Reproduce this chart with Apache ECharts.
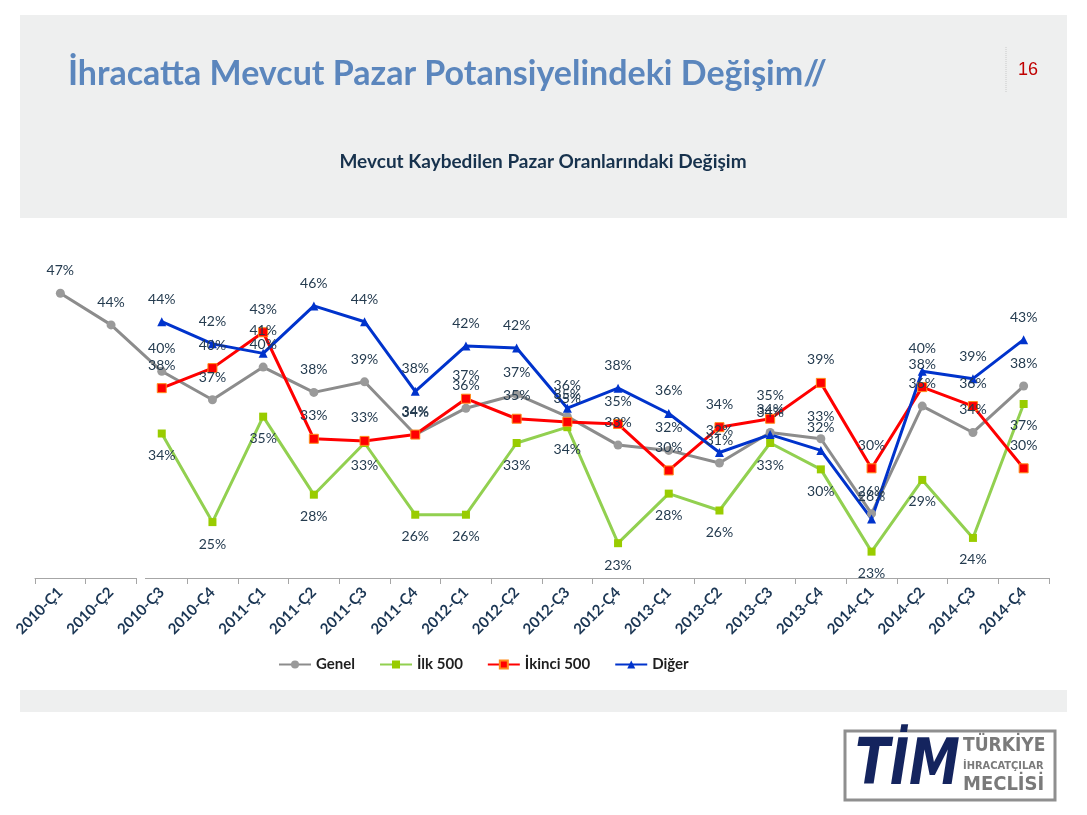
<!DOCTYPE html>
<html>
<head>
<meta charset="utf-8">
<script src="https://cdn.jsdelivr.net/npm/echarts@6/dist/echarts.min.js"></script>
<style>
html,body{margin:0;padding:0;background:#fff;}
#c{width:1087px;height:815px;}
</style>
</head>
<body>
<div id="c"></div>
<script>
const categories = ['2010-Ç1','2010-Ç2','2010-Ç3','2010-Ç4','2011-Ç1','2011-Ç2','2011-Ç3','2011-Ç4','2012-Ç1','2012-Ç2','2012-Ç3','2012-Ç4','2013-Ç1','2013-Ç2','2013-Ç3','2013-Ç4','2014-Ç1','2014-Ç2','2014-Ç3','2014-Ç4'];
const seriesNames = ['Genel','İlk 500','İkinci 500','Diğer'];
const genel     = [47.0, 44.0, 39.6, 36.9, 40.0, 37.6, 38.6, 33.6, 36.1, 37.4, 35.3, 32.6, 32.1, 30.9, 33.8, 33.2, 26.1, 36.3, 33.8, 38.2];
const ilk500    = [null, null, 33.7, 25.3, 35.3, 27.9, 32.8, 26.0, 26.0, 32.8, 34.3, 23.3, 28.0, 26.4, 32.8, 30.3, 22.5, 29.3, 23.8, 36.5];
const ikinci500 = [null, null, 38.0, 39.9, 43.3, 33.2, 33.0, 33.6, 37.0, 35.1, 34.8, 34.6, 30.2, 34.3, 35.1, 38.5, 30.4, 38.1, 36.3, 30.4];
const diger     = [null, null, 44.3, 42.2, 41.3, 45.8, 44.3, 37.7, 42.0, 41.8, 36.1, 38.0, 35.6, 31.9, 33.6, 32.1, 25.6, 39.6, 38.9, 42.6];
const titleText = 'İhracatta Mevcut Pazar Potansiyelindeki Değişim//';
const subtitleText = 'Mevcut Kaybedilen Pazar Oranlarındaki Değişim';
const pageNo = '16';

const FONT = 'Lato, "Open Sans", sans-serif';
const labelColor = '#243b4f';
const fmt = p => (p.value == null ? '' : Math.round(p.value) + '%');

function mkSeries(name, data, color, symbol, symbolSize, markerColor, markerBorder, pos) {
  return {
    name, type: 'line', data, symbol, symbolSize,
    lineStyle: { color, width: 3 },
    itemStyle: { color: markerColor, borderColor: markerBorder, borderWidth: markerBorder ? 1 : 0 },
    label: { show: true, position: pos, distance: 11, formatter: fmt, color: labelColor, fontFamily: FONT, fontSize: 14 },
    emphasis: { disabled: true },
    animation: false
  };
}

const chart = echarts.init(document.getElementById('c'));
chart.setOption({
  backgroundColor: '#ffffff',
  animation: false,
  grid: { left: 35, right: 38, top: 261.6, bottom: 237, containLabel: false },
  xAxis: {
    type: 'category', data: categories, boundaryGap: true,
    axisLine: { lineStyle: { color: '#a6a6a6', width: 1 } },
    axisTick: { show: true, alignWithLabel: false, length: 6, lineStyle: { color: '#a6a6a6' } },
    axisLabel: { rotate: 45, interval: 0, margin: 12, color: '#1b3654', fontFamily: FONT, fontWeight: 'bold', fontSize: 15 }
  },
  yAxis: { type: 'value', min: 20, max: 50, show: false, splitLine: { show: false } },
  legend: {
    left: 273, top: 652, itemWidth: 32, itemHeight: 10, itemGap: 24,
    textStyle: { color: '#1f1f1f', fontFamily: FONT, fontSize: 15, fontWeight: 'bold' },
    data: seriesNames
  },
  series: [
    mkSeries(seriesNames[0], genel, '#8c8c8c', 'circle', 9, '#9a9a9a', null, 'top'),
    mkSeries(seriesNames[1], ilk500, '#92d050', 'rect', 8, '#99cc00', null, 'bottom'),
    mkSeries(seriesNames[2], ikinci500, '#ff0000', 'rect', 9, '#ff0000', '#ff8c1a', 'top'),
    mkSeries(seriesNames[3], diger, '#0033cc', 'triangle', 9, '#0033cc', null, 'top')
  ],
  graphic: [
    { type: 'rect', shape: { x: 20, y: 15, width: 1047, height: 203 }, style: { fill: '#eeefef' }, z: -10, silent: true },
    { type: 'rect', shape: { x: 20, y: 690, width: 1047, height: 22 }, style: { fill: '#eeefef' }, z: -10, silent: true },
    { type: 'text', x: 68, y: 74, style: { text: titleText, fill: '#5b86bd', font: 'bold 34px ' + FONT, textVerticalAlign: 'middle' } },
    { type: 'line', shape: { x1: 1006, y1: 47, x2: 1006, y2: 92 }, style: { stroke: '#c8c8c8', lineWidth: 1, lineDash: [1, 1] } },
    { type: 'text', x: 1018, y: 70, style: { text: pageNo, fill: '#c00000', font: '18px "Liberation Sans", Arial, sans-serif', textVerticalAlign: 'middle' } },
    { type: 'text', x: 543, y: 162, style: { text: subtitleText, fill: '#17324d', font: 'bold 19px ' + FONT, textAlign: 'center', textVerticalAlign: 'middle' } },
    { type: 'rect', shape: { x: 137, y: 575, width: 8, height: 6 }, style: { fill: '#ffffff' }, z: 100 },
    // logo
    { type: 'rect', shape: { x: 845, y: 731, width: 210, height: 69 }, style: { fill: '#ffffff', stroke: '#8f8f8f', lineWidth: 3 } },
    { type: 'text', x: 855, y: 767, scaleX: 0.8, style: { text: 'TİM', fill: '#14245e', font: 'italic 900 64px "DejaVu Sans", sans-serif', textVerticalAlign: 'middle' } },
    { type: 'text', x: 963, y: 746, style: { text: 'TÜRKİYE', fill: '#7a7a7a', font: 'bold 19px "DejaVu Sans Condensed", "DejaVu Sans", sans-serif', textVerticalAlign: 'middle' } },
    { type: 'text', x: 963, y: 766, style: { text: 'İHRACATÇILAR', fill: '#7a7a7a', font: 'bold 11px "DejaVu Sans Condensed", "DejaVu Sans", sans-serif', textVerticalAlign: 'middle' } },
    { type: 'text', x: 963, y: 785, style: { text: 'MECLİSİ', fill: '#7a7a7a', font: 'bold 20px "DejaVu Sans Condensed", "DejaVu Sans", sans-serif', textVerticalAlign: 'middle' } }
  ]
});
</script>
</body>
</html>
